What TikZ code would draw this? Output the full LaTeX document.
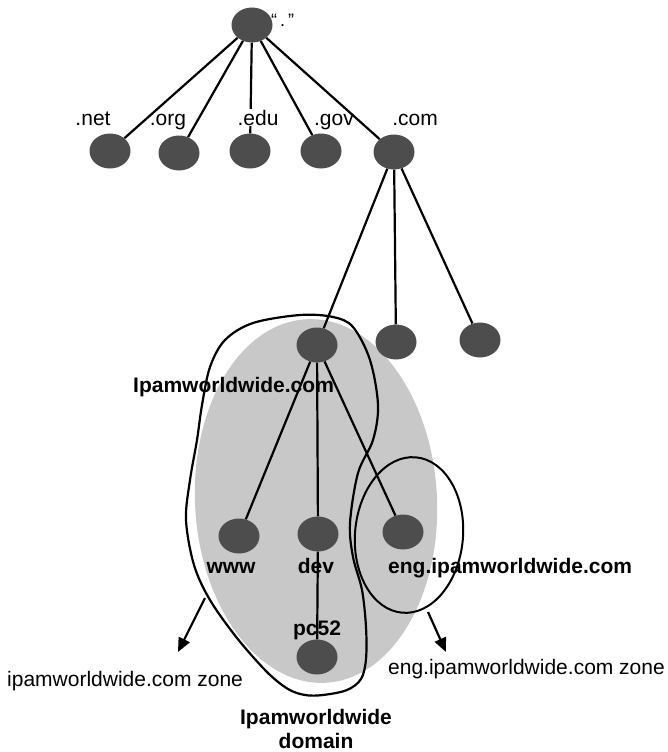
\documentclass[tikz,border=0pt]{standalone}
\usepackage{fontspec}
\setmainfont{Liberation Sans}
\usetikzlibrary{shapes.geometric,arrows.meta}
\definecolor{nodegray}{HTML}{4D4D4D}
\definecolor{zonegray}{HTML}{C8C8C8}
\begin{document}
\begin{tikzpicture}[x=1pt,y=-1pt,
  dnsnode/.style={ellipse,fill=nodegray,minimum width=41pt,minimum height=35pt,inner sep=0pt},
  link/.style={line width=2.2pt},
  lbl/.style={font=\fontsize{21}{24}\selectfont,inner sep=0pt,anchor=base},
  blbl/.style={lbl,font=\fontsize{21}{24}\selectfont\bfseries},
  boundary/.style={line width=2.2pt},
  pointer/.style={line width=2.2pt,-{Triangle[length=14pt,width=12pt]}}]
\useasboundingbox (0,0) rectangle (668,752);

% shaded domain area
\fill[zonegray,rotate around={3:(316,501)}] (316,501) ellipse [x radius=121,y radius=182];

% ipamworldwide.com zone outline
\draw[boundary] plot[smooth cycle,tension=0.55] coordinates {
  (300,315) (333,317) (353,327) (370,360) (378,405) (373,440) (358,473)
  (350,523) (353,557) (362,590) (366,627) (366,659) (361,679) (347,690)
  (323,695) (305,695) (288,689) (267,672) (237,638) (210,600) (194,565)
  (186,520) (190,480) (197,440) (202,405) (210,367) (225,340) (253,323)};

% eng.ipamworldwide.com zone outline
\node[draw,ellipse,line width=2pt,minimum width=108pt,minimum height=156pt,inner sep=0pt,rotate=-5] (engzone) at (409,535) {};

% tree nodes
\node[dnsnode] (root) at (252,25) {};
\node[dnsnode] (net) at (110,151) {};
\node[dnsnode] (org) at (179,153) {};
\node[dnsnode] (edu) at (250,151) {};
\node[dnsnode] (gov) at (321,151) {};
\node[dnsnode] (com) at (394,152) {};
\node[dnsnode] (ipam) at (317,345) {};
\node[dnsnode] (comb) at (396,342) {};
\node[dnsnode] (comc) at (480,340) {};
\node[dnsnode] (www) at (239,536) {};
\node[dnsnode] (dev) at (318,534) {};
\node[dnsnode] (eng) at (403,532) {};
\node[dnsnode] (pc) at (317,657) {};

% tree edges
\foreach \t in {net,org,edu,gov,com} \draw[link] (root) -- (\t);
\foreach \t in {ipam,comb,comc} \draw[link] (com) -- (\t);
\foreach \t in {www,dev,eng} \draw[link] (ipam) -- (\t);
\draw[link] (dev) -- (pc);

% labels
\node[lbl,anchor=base west,font=\fontsize{18}{20}\selectfont] (rootlbl) at (271,27) {“\hspace{3pt}.\hspace{3pt}”};
\node[lbl] (netlbl) at (93,125) {.net};
\node[lbl] (orglbl) at (168,125) {.org};
\node[lbl,fill=white,inner sep=0.5pt] (edulbl) at (258,125) {.edu};
\node[lbl] (govlbl) at (334,125) {.gov};
\node[lbl] (comlbl) at (415,125) {.com};
\node[blbl,anchor=base west] (ipamlbl) at (133,392) {Ipamworldwide.com};
\node[blbl] (wwwlbl) at (231,573) {www};
\node[blbl] (devlbl) at (316,573) {dev};
\node[blbl,anchor=base west] (englbl) at (388,573) {eng.ipamworldwide.com};
\node[blbl] (pclbl) at (317,635) {pc52};
\node[lbl,anchor=base west] (zonelbl) at (7,686) {ipamworldwide.com zone};
\node[lbl,anchor=base west] (engzonelbl) at (388,674) {eng.ipamworldwide.com zone};
\node[blbl] (domlbl) at (316,724) {Ipamworldwide};
\node[blbl] (domlblb) at (316,748) {domain};

% zone pointers
\coordinate (zonetail) at (205,598);
\coordinate (zonetip) at (178,652);
\coordinate (engtail) at (428,612);
\coordinate (engtip) at (446,652);
\draw[pointer] (zonetail) -- (zonetip);
\draw[pointer] (engtail) -- (engtip);
\end{tikzpicture}
\end{document}
